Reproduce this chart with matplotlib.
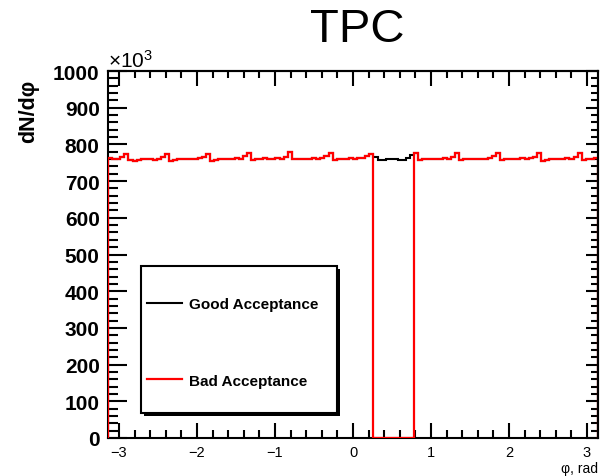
import numpy as np
import matplotlib
matplotlib.use('Agg')
from matplotlib import pyplot as plt
from matplotlib.lines import Line2D
from matplotlib.patches import Rectangle
from matplotlib.ticker import MultipleLocator, FuncFormatter

plt.rcParams['font.family'] = ['Liberation Sans', 'DejaVu Sans']
plt.rcParams['mathtext.fontset'] = 'custom'
plt.rcParams['mathtext.rm'] = 'Liberation Sans'
plt.rcParams['mathtext.it'] = 'Liberation Sans'

# dN/dphi in units of 10^3, 120 bins over [-pi, pi]
n_bins = 120
good = [
    763, 761, 760, 765,
    775, 757, 756, 758, 759, 759, 760, 758, 760, 765,
    774, 755, 757, 759, 760, 761, 760, 761, 762, 767,
    775, 756, 758, 760, 761, 761, 760, 762, 761, 768,
    777, 758, 759, 761, 762, 760, 761, 762, 761, 767,
    778, 759, 760, 761, 760, 761, 762, 761, 762, 768,
    777, 758, 760, 761, 760, 762, 761, 762, 763, 768,
    775,
    766, 758, 757, 759, 760, 759, 757, 758, 763, 770,
    776, 758, 759, 760, 761, 760, 761, 762, 761, 767,
    777, 757, 759, 760, 761, 761, 760, 761, 762, 768,
    776, 758, 760, 761, 760, 761, 762, 761, 762, 767,
    777, 756, 758, 760, 761, 760, 761, 762, 761, 767,
    776, 758, 759, 760, 762,
]
# bins with no acceptance (dead sector)
dead_bins = list(range(65, 75))

edges = np.linspace(-np.pi, np.pi, n_bins + 1)
good = np.array(good, dtype=float)
bad = good.copy()
bad[dead_bins] = 0

fig = plt.figure(figsize=(6.01, 4.77), dpi=100)
ax = fig.add_axes([108 / 601, 38 / 477, 490 / 601, 367 / 477])

ax.stairs(good, edges, baseline=0, color='black', lw=1.5, zorder=3)
ax.stairs(bad, edges, baseline=0, color='red', lw=1.6, zorder=3)

ax.set_xlim(-np.pi, np.pi)
ax.set_ylim(0, 1000)
ax.xaxis.set_major_locator(MultipleLocator(1))
ax.xaxis.set_minor_locator(MultipleLocator(0.2))
ax.yaxis.set_major_locator(MultipleLocator(100))
ax.yaxis.set_minor_locator(MultipleLocator(20))
ax.xaxis.set_major_formatter(FuncFormatter(lambda v, p: f'{v:.0f}'.replace('-', '\u2212')))

ax.tick_params(axis='y', which='major', direction='in', length=14, width=1.5,
               labelsize=15, pad=6)
ax.tick_params(axis='y', which='minor', direction='in', length=7, width=1.5)
ax.tick_params(axis='x', which='major', direction='in', length=11, width=1.5,
               labelsize=10.5, pad=5)
ax.tick_params(axis='x', which='minor', direction='in', length=6, width=1.5)
for lab in ax.get_yticklabels():
    lab.set_fontweight('bold')

for s in ax.spines.values():
    s.set_linewidth(1.5)
ax.spines['right'].set_zorder(5)

secx = ax.secondary_xaxis('top')
secx.xaxis.set_major_locator(MultipleLocator(1))
secx.xaxis.set_minor_locator(MultipleLocator(0.2))
secx.tick_params(which='major', direction='in', length=11, width=1.5, labeltop=False)
secx.tick_params(which='minor', direction='in', length=5, width=1.5)
secx.spines['top'].set_linewidth(1.5)

secy = ax.secondary_yaxis('right')
secy.yaxis.set_major_locator(MultipleLocator(100))
secy.yaxis.set_minor_locator(MultipleLocator(20))
secy.tick_params(which='major', direction='in', length=9, width=1.5, labelright=False)
secy.tick_params(which='minor', direction='in', length=5, width=1.5)
secy.spines['right'].set_linewidth(1.5)
secy.spines['right'].set_zorder(5)

ax.set_ylabel('dN/d\u03c6', fontsize=15.5, fontweight='bold', loc='top')
ax.yaxis.set_label_coords(-0.163, 0.978)
ax.yaxis.label.set_va('center')

ax.set_xlabel('\u03c6, rad', fontsize=10, loc='right')
ax.xaxis.set_label_coords(1.0, -0.082)
ax.xaxis.label.set_va('center')

fig.text(357 / 601, 435 / 477, 'TPC', ha='center', va='baseline', fontsize=34)
fig.text(108 / 601, 409 / 477, r'$\times10^{3}$', ha='left', va='baseline', fontsize=15)

# legend box with shadow
ax.add_patch(Rectangle((144 / 601, 60 / 477), 196 / 601, 147 / 477,
                       transform=fig.transFigure, fc='black', ec='none',
                       zorder=6, clip_on=False))
ax.add_patch(Rectangle((141 / 601, 63 / 477), 196 / 601, 147 / 477,
                       transform=fig.transFigure, fc='white', ec='black',
                       lw=1.5, zorder=7, clip_on=False))
handles = [Line2D([], [], color='black', lw=1.5), Line2D([], [], color='red', lw=1.6)]
leg = ax.legend(handles, ['Good Acceptance', 'Bad Acceptance'], frameon=False,
                loc='upper left', bbox_to_anchor=(147 / 601, 179 / 477),
                bbox_transform=fig.transFigure, borderpad=0, borderaxespad=0,
                handlelength=2.3, handletextpad=0.45, labelspacing=4.1,
                prop={'size': 11, 'weight': 'bold'})
leg.set_zorder(8)

fig.savefig('out.png', dpi=100)
